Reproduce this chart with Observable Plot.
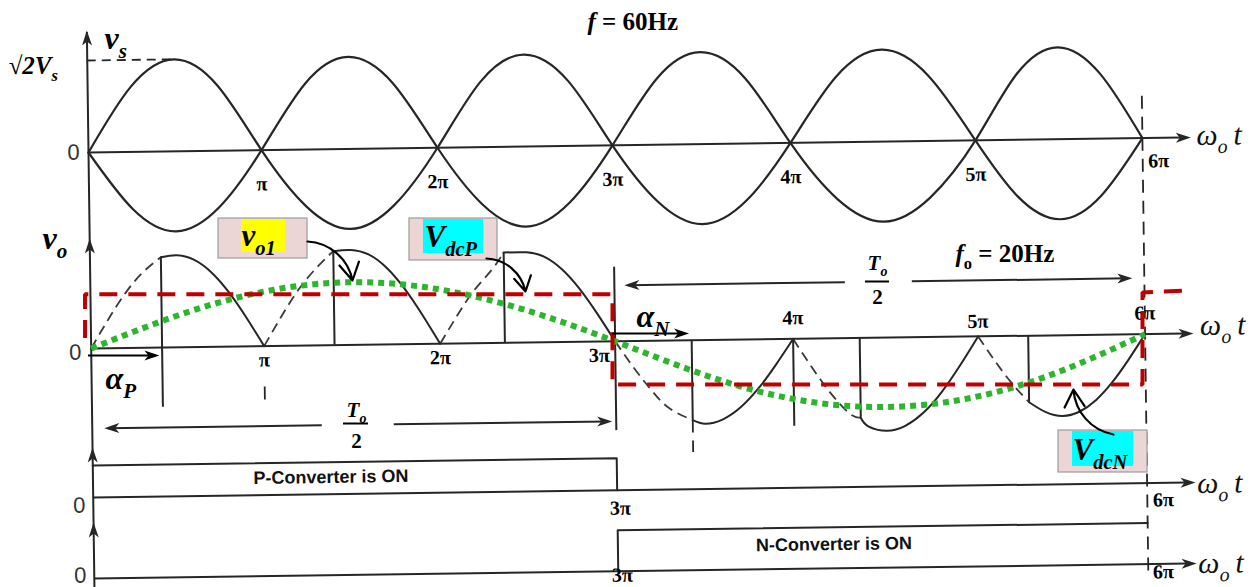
<!DOCTYPE html>
<html><head><meta charset="utf-8">
<script src="https://cdn.jsdelivr.net/npm/d3@7"></script>
<script src="https://cdn.jsdelivr.net/npm/@observablehq/plot@0.6"></script>
<style>
html,body{margin:0;padding:0;background:#fff;overflow:hidden}
#wrap{position:relative;width:1260px;height:587px;overflow:hidden}
#wrap svg{position:absolute;left:0;top:0;overflow:visible}
</style></head><body><div id="wrap"></div>
<script>
// ================= DATA (angle ωt in units of π rad) =================
const tickMultiples = [1, 2, 3, 4, 5, 6];
const tickLabels = ["π", "2π", "3π", "4π", "5π", "6π"];

// supply voltage v_s normalised to √2·Vs, read every π/4
const phase = [0,0.25,0.5,0.75,1,1.25,1.5,1.75,2,2.25,2.5,2.75,3,3.25,3.5,3.75,4,4.25,4.5,4.75,5,5.25,5.5,5.75,6];
const vsWave = [0,0.71,1,0.71,0,-0.71,-1,-0.71,0,0.71,1,0.71,0,-0.71,-1,-0.71,0,0.71,1,0.71,0,-0.71,-1,-0.71,0];

// output voltage v_o : six half cycles (P converter then N converter)
const halfStart  = [0, 1, 2, 3, 4, 5];
const halfPeak   = [0.97, 1.0, 0.95, -0.88, -0.98, -0.85];
const alphaDelay = [0.41, 0.40, 0.37, 0.43, 0.36, 0.30];   // firing delay
const jumpValue  = [0.95, 0.99, 0.95, -0.84, -0.84, -0.70];
const humpOffset = [0,0.1,0.2,0.3,0.4,0.5,0.6,0.7,0.8,0.9,1];
const humpShape  = [0,0.31,0.59,0.81,0.95,1,0.95,0.81,0.59,0.31,0];

// fundamental component v_o1
const vo1T = [0, 0.75, 1.5, 2.25, 3, 3.75, 4.5, 5.25, 6];
const vo1V = [0, 0.47, 0.66, 0.47, 0, -0.52, -0.73, -0.52, 0];

// average dc levels V_dcP / V_dcN
const vdcT = [-0.02, -0.02, 3, 3, 6, 6, 6.26];
const vdcV = [0.11, 0.57, 0.57, -0.38, -0.38, 0.59, 0.61];

// converter conduction states
const pOnT = [0, 3, 3];  const pOnV = [1, 1, 0];
const nOnT = [3, 3, 6];  const nOnV = [0, 1, 1];

// ================= LAYOUT =================
const X = {type: "linear", domain: [0,1,2,3,4,5,6], range: [88,261,437,612,790,975,1142], axis: null};
const Y = {type: "linear", domain: [0, 587], range: [0, 587], axis: null};
const xInv = d3.scaleLinear().domain(X.range).range(X.domain);   // pixel -> angle (for annotations)
const yTop = v => 152 - v * (v >= 0 ? 92 : 80);
const yMid = v => 348 - 95 * v;
const yScr = v => 348 - 95 * v;
const yP = v => 497 - 32 * v;
const yN = v => 578 - 41 * v;
const K = "#262626";
const SERIF = "'Liberation Serif','DejaVu Serif',serif";
const NARROW = "'Liberation Sans Narrow','Liberation Sans',Arial,sans-serif";
const tipX = 6.29, axEnd = 6.24;

const arrowHead = {draw(ctx, size) {
  const k = Math.sqrt(size / Math.PI) / 5;
  ctx.moveTo(0, 0); ctx.lineTo(-5 * k, 15 * k); ctx.lineTo(0, 11 * k); ctx.lineTo(5 * k, 15 * k); ctx.closePath();
}};

// ---------- layer A : the (slightly rotated) scanned waveform drawing ----------
const vsPts = phase.map((t, i) => ({t, a: yTop(vsWave[i]), b: yTop(-vsWave[i])}));
const solid = [], dashed = [];
halfStart.forEach((n, k) => {
  const a = alphaDelay[k], s = [], d = [];
  humpOffset.forEach((o, i) => {
    const v = humpShape[i] * halfPeak[k];
    if (o < a - 0.03) d.push({t: n + o, y: yMid(v), k});
    if (o > a + 0.031) s.push({t: n + o, y: yMid(v), k});
  });
  d.push({t: n + a, y: yMid(jumpValue[k]), k});
  s.unshift({t: n + a, y: yMid(jumpValue[k]), k});
  dashed.push(...d); solid.push(...s);
});
const jumps = halfStart.map((n, k) => ({t: n + alphaDelay[k], y1: yMid(0), y2: yMid(jumpValue[k])}));
const guides = [
  {t: alphaDelay[0], y1: yMid(0), y2: yMid(-0.63), dash: false},
  {t: 3, y1: yMid(0.78), y2: yMid(-0.94), dash: false},
  {t: 4, y1: yMid(0), y2: yMid(-0.92), dash: false},
  {t: 1, y1: yMid(-0.43), y2: yMid(-0.62), dash: true},
  {t: 3 + alphaDelay[3], y1: yMid(-0.84), y2: yMid(-1.18), dash: true},
  {t: 6, y1: 110, y2: 590, dash: true}
];
const heads = [
  {t: 0, y: 30, r: 0}, {t: 0, y: 238, r: 0}, {t: 0, y: 447, r: 0}, {t: 0, y: 522, r: 0},
  {t: tipX, y: 152, r: 90}, {t: tipX, y: 348, r: 90}, {t: tipX, y: 497, r: 90}, {t: tipX, y: 578, r: 90},
  {t: xInv(100), y: 428, r: -90}, {t: xInv(608), y: 428, r: 90},
  {t: xInv(622), y: 292, r: -90}, {t: xInv(1130), y: 292, r: 90}
];
const dimLines = [
  {x1: xInv(104), x2: xInv(318), y: 428}, {x1: xInv(390), x2: xInv(604), y: 428},
  {x1: xInv(626), x2: xInv(843), y: 292}, {x1: xInv(910), x2: xInv(1126), y: 292}
];
const tickPos = [
  ...tickMultiples.slice(0, 5).map((m, i) => ({t: m, y: 186, s: tickLabels[i]})),
  {t: xInv(1158), y: 175, s: tickLabels[5]},
  {t: 1, y: 362, s: tickLabels[0]}, {t: 2, y: 362, s: tickLabels[1]}, {t: xInv(596), y: 362, s: tickLabels[2]},
  {t: 4, y: 327, s: tickLabels[3]}, {t: 5, y: 333, s: tickLabels[4]}, {t: 6, y: 327, s: tickLabels[5]},
  {t: xInv(615), y: 515, s: tickLabels[2]}, {t: xInv(1158), y: 514, s: tickLabels[5]},
  {t: xInv(616), y: 582, s: tickLabels[2]}, {t: xInv(1157), y: 586, s: tickLabels[5]}
];
const zeros = [{y: 152, px: 73}, {y: 352, px: 72}, {y: 505, px: 74}, {y: 575, px: 74}].map(d => ({t: xInv(d.px), y: d.y}));
const omegas = [{t: xInv(1196), y: 150}, {t: xInv(1197), y: 340}, {t: xInv(1192), y: 498}, {t: xInv(1192), y: 578}];

const layerA = Plot.plot({
  width: 1260, height: 600, margin: 0, x: X, y: Y,
  style: {background: "transparent", overflow: "visible"},
  marks: [
    // axes
    Plot.ruleY([152, 348, 497, 578], {y: d => d, x1: 0, x2: axEnd, stroke: K, strokeWidth: 2}),
    Plot.ruleX([0], {x: d => d, y1: 32, y2: 590, stroke: K, strokeWidth: 2}),
    Plot.dot(heads, {x: "t", y: "y", rotate: "r", symbol: arrowHead, r: 5, fill: K, stroke: "none"}),
    Plot.ruleY([yTop(1)], {y: d => d, x1: 0, x2: 0.5, stroke: K, strokeWidth: 1.8, strokeDasharray: "9,6", strokeLinecap: "butt"}),
    // supply waveforms
    Plot.line(vsPts, {x: "t", y: "a", curve: "natural", stroke: K, strokeWidth: 2.2}),
    Plot.line(vsPts, {x: "t", y: "b", curve: "natural", stroke: K, strokeWidth: 2.2}),
    // output waveform
    Plot.line(dashed, {x: "t", y: "y", z: "k", curve: "natural", stroke: "#3a3a3a", strokeWidth: 1.8, strokeDasharray: "10,6", strokeLinecap: "butt"}),
    Plot.line(solid, {x: "t", y: "y", z: "k", curve: "natural", stroke: K, strokeWidth: 2}),
    Plot.ruleX(jumps, {x: "t", y1: "y1", y2: "y2", stroke: K, strokeWidth: 2}),
    Plot.ruleX(guides.filter(d => !d.dash), {x: "t", y1: "y1", y2: "y2", stroke: K, strokeWidth: 2}),
    Plot.ruleX(guides.filter(d => d.dash), {x: "t", y1: "y1", y2: "y2", stroke: K, strokeWidth: 1.8, strokeDasharray: "13,8", strokeLinecap: "butt"}),
    // T0/2 dimension lines
    Plot.ruleY(dimLines, {y: "y", x1: "x1", x2: "x2", stroke: K, strokeWidth: 2}),
    // converter states
    Plot.line(pOnT.map((t, i) => ({t, y: yP(pOnV[i])})), {x: "t", y: "y", stroke: K, strokeWidth: 2}),
    Plot.line(nOnT.map((t, i) => ({t, y: yN(nOnV[i])})), {x: "t", y: "y", stroke: K, strokeWidth: 2}),
    // fundamental
    Plot.line(vo1T.map((t, i) => ({t, y: yMid(vo1V[i])})), {x: "t", y: "y", curve: "natural", stroke: "#2db52d", strokeWidth: 6, strokeDasharray: "6,5", strokeLinecap: "butt"}),
    // labels
    Plot.text(tickPos, {x: "t", y: "y", text: "s", fontFamily: SERIF, fontWeight: "bold", fontSize: 20, fill: "#000"}),
    Plot.text(zeros, {x: "t", y: "y", text: () => "0", fontFamily: NARROW, fontSize: 22, fill: "#333"}),
    Plot.text(omegas, {x: "t", y: "y", text: () => "ω_{o}\u2009t", textAnchor: "start", fontFamily: SERIF, fontStyle: "italic", fontSize: 30, fill: "#111"}),
    Plot.text([{t: xInv(326), y: 480, s: "P-Converter is ON"}, {t: xInv(828), y: 554, s: "N-Converter is ON"}],
      {x: "t", y: "y", text: "s", fontFamily: NARROW, fontWeight: "bold", fontSize: 18, fill: "#111"})
  ]
});

// ---------- layer B : overlays (labels, dc levels, call-outs) ----------
const boxes = [
  {l: 218, r: 307, t: 218, b: 258, hl: 241, hr: 285, hb: 252, hc: "#ffff00", s: "v_{o1}", tx: 241, ty: 236},
  {l: 409, r: 497, t: 218, b: 260, hl: 423, hr: 483, hb: 253, hc: "#00ffff", s: "V_{dcP}", tx: 424, ty: 237},
  {l: 1058, r: 1147, t: 430, b: 472, hl: 1072, hr: 1133, hb: 466, hc: "#00ffff", s: "V_{dcN}", tx: 1072, ty: 450}
];
const callouts = [
  {x1: 307, y1: 241, x2: 352, y2: 280},
  {x1: 486, y1: 258, x2: 525, y2: 291},
  {x1: 1113, y1: 434, x2: 1073, y2: 389}
];
const mathLabels = [
  {px: 104, y: 38, s: "v_{s}", size: 32},
  {px: 42, y: 238, s: "v_{o}", size: 32},
  {px: 8, y: 65, s: "√2V_{s}", size: 25},
  {px: 105, y: 378, s: "α_{P}", size: 32},
  {px: 636, y: 316, s: "α_{N}", size: 32}
];
const alphaArrows = [
  {x1: 0, x2: alphaDelay[0], y: 355},
  {x1: 3, x2: 3 + alphaDelay[3], y: 333}
];

const layerB = Plot.plot({
  width: 1260, height: 587, margin: 0, x: X, y: Y,
  style: {background: "transparent", overflow: "visible"},
  marks: [
    Plot.line(vdcT.map((t, i) => ({t, y: yScr(vdcV[i])})), {x: "t", y: "y", stroke: "#c00000", strokeWidth: 4, strokeDasharray: "18,11", strokeLinecap: "butt", strokeLinejoin: "miter"}),
    Plot.rect(boxes, {x1: d => xInv(d.l), x2: d => xInv(d.r), y1: "t", y2: "b", fill: "#ecd5d5", stroke: "#9c9c9c", strokeWidth: 1.2}),
    Plot.rect(boxes, {x1: d => xInv(d.hl), x2: d => xInv(d.hr), y1: d => d.t + 1, y2: "hb", fill: "hc"}),
    Plot.text(boxes, {x: d => xInv(d.tx), y: "ty", text: "s", textAnchor: "start", fontFamily: SERIF, fontWeight: "bold", fontStyle: "italic", fontSize: 31, fill: "#000"}),
    Plot.arrow(callouts, {x1: d => xInv(d.x1), y1: "y1", x2: d => xInv(d.x2), y2: "y2", bend: 38, stroke: "#000", strokeWidth: 2.2, headLength: 14, headAngle: 60}),
    Plot.ruleY(alphaArrows, {y: "y", x1: "x1", x2: d => d.x2 - 0.02, stroke: "#000", strokeWidth: 2}),
    Plot.dot(alphaArrows, {x: "x2", y: "y", rotate: 90, symbol: arrowHead, r: 5, fill: "#000", stroke: "none"}),
    Plot.text(mathLabels, {x: d => xInv(d.px), y: "y", text: "s", textAnchor: "start", fontFamily: SERIF, fontWeight: "bold", fontStyle: "italic", fontSize: d => d.size, fill: "#000"}),
    Plot.text([{px: 587, y: 21, s: "*f* = 60Hz"}, {px: 955, y: 253, s: "*f*_{o} = 20Hz"}],
      {x: d => xInv(d.px), y: "y", text: "s", textAnchor: "start", fontFamily: SERIF, fontWeight: "bold", fontSize: 25, fill: "#000"}),
    // T0/2 fractions
    Plot.text([{px: 356, y: 410}, {px: 877, y: 263}], {x: d => xInv(d.px), y: "y", text: () => "T_{o}", fontFamily: SERIF, fontWeight: "bold", fontStyle: "italic", fontSize: 21, fill: "#000"}),
    Plot.text([{px: 356, y: 441}, {px: 877, y: 297}], {x: d => xInv(d.px), y: "y", text: () => "2", fontFamily: SERIF, fontWeight: "bold", fontSize: 21, fill: "#000"}),
    Plot.ruleY([{a: 343, b: 368, y: 423}, {a: 865, b: 889, y: 281}], {y: "y", x1: d => xInv(d.a), x2: d => xInv(d.b), stroke: "#000", strokeWidth: 2})
  ]
});

const wrap = document.getElementById("wrap");
layerA.style.transform = "rotate(-0.78deg)";
layerA.style.transformOrigin = "88px 152px";
wrap.appendChild(layerA);
wrap.appendChild(layerB);

// sub-/italic markup: x_{sub}, *italic*
function rich(svg) {
  svg.querySelectorAll("text").forEach(el => {
    const s = el.textContent;
    if (!/_\{|\*/.test(s)) return;
    const fs = parseFloat(getComputedStyle(el).fontSize) || 16;
    const parts = s.split(/(_\{[^}]*\}|\*[^*]*\*)/).filter(p => p !== "");
    el.textContent = "";
    let down = false;
    for (const p of parts) {
      const ts = document.createElementNS("http://www.w3.org/2000/svg", "tspan");
      if (p.startsWith("_{")) {
        ts.textContent = p.slice(2, -1);
        ts.setAttribute("font-size", (fs * 0.66).toFixed(1));
        ts.setAttribute("dy", (fs * 0.28).toFixed(1));
        down = true;
      } else {
        if (p.startsWith("*")) { ts.textContent = p.slice(1, -1); ts.setAttribute("font-style", "italic"); }
        else ts.textContent = p;
        if (down) { ts.setAttribute("dy", (-fs * 0.28).toFixed(1)); down = false; }
      }
      el.appendChild(ts);
    }
  });
}
rich(layerA); rich(layerB);
</script></body></html>
